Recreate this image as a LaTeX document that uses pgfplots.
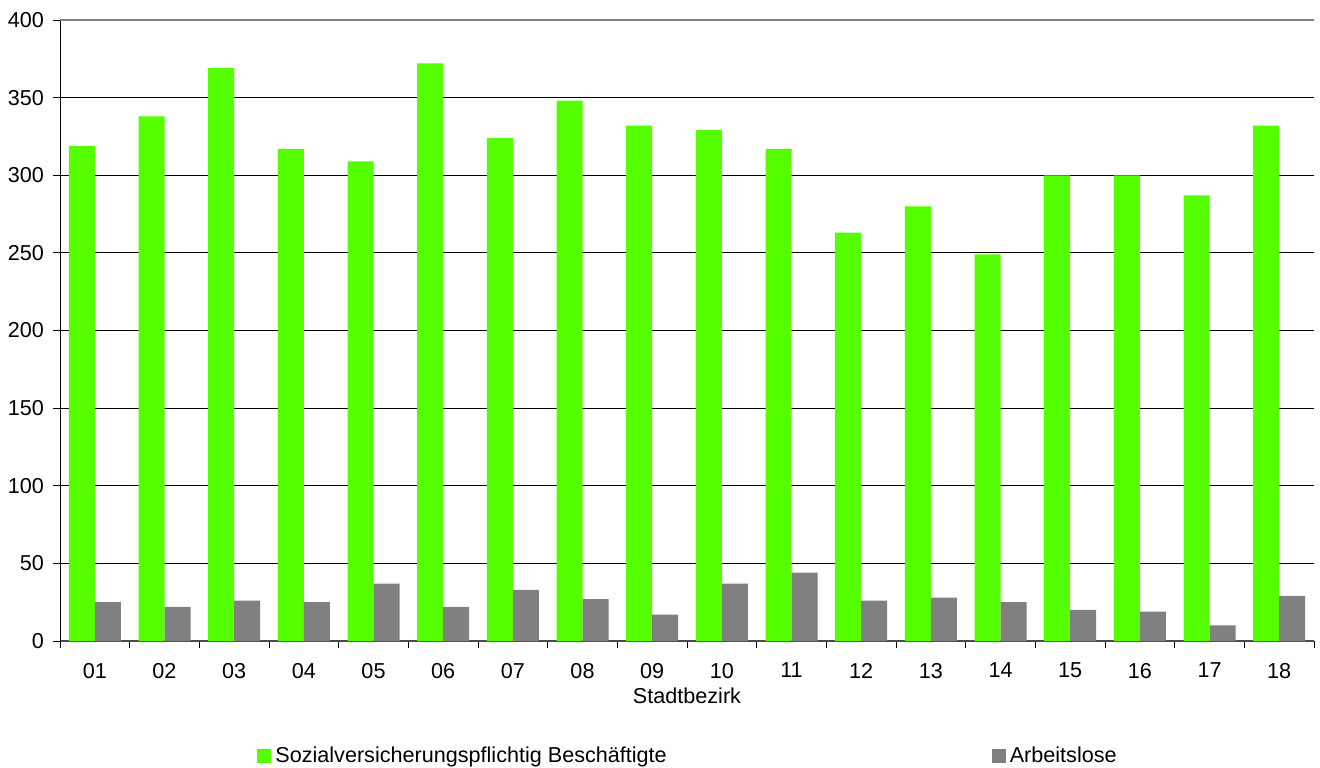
\documentclass[border=0pt]{standalone}
\usepackage{fontspec}
\setmainfont{Liberation Sans}
\usepackage{pgfplots}
\usepackage{pgfplotstable}
\pgfplotsset{compat=1.18}
\definecolor{bargreen}{RGB}{85,255,0}
\definecolor{bargray}{RGB}{128,128,128}
\pgfplotstableread{
x y
1 319
2 338
3 369
4 317
5 309
6 372
7 324
8 348
9 332
10 329
11 317
12 263
13 280
14 249
15 300
16 300
17 287
18 332
}\besch
\pgfplotstableread{
x y
1 25
2 22
3 26
4 25
5 37
6 22
7 33
8 27
9 17
10 37
11 44
12 26
13 28
14 25
15 20
16 19
17 10
18 29
}\arbeit
\begin{document}
\begin{tikzpicture}[x=1pt,y=1pt]
\useasboundingbox (0,0) rectangle (660,383.5);
\begin{axis}[
  at={(30pt,63pt)}, anchor=south west,
  scale only axis, width=627pt, height=310.5pt,
  ybar=0pt, bar width=13pt,
  xmin=0.5, xmax=18.5, ymin=0, ymax=400,
  axis lines*=left,
  x axis line style={draw=black!70, line width=0.8pt},
  y axis line style={draw=black, line width=0.5pt},
  xtick={0.5,1.5,...,18.5},
  x tick label as interval,
  xticklabels={01,02,03,04,05,06,07,08,09,10,11,12,13,14,15,16,17,18},
  xticklabel style={yshift=-4pt},
  yticklabel style={xshift=-1pt},
  ytick={0,50,...,350},
  extra y ticks={400},
  extra y tick style={grid style={draw=bargray, line width=1pt}},
  ymajorgrids,
  grid style={draw=black, line width=0.5pt},
  tick align=outside, major tick length=3.5pt,
  tick style={draw=black, line width=0.5pt},
  /pgf/number format/assume math mode=true,
  ticklabel style={font=\fontsize{10.8pt}{12pt}\selectfont},
  xlabel={Stadtbezirk},
  xlabel style={font=\fontsize{10.8pt}{12pt}\selectfont, at={(axis description cs:0.5,0)}, anchor=center, yshift=-27.5pt},
  legend columns=2,
  legend cell align=left,
  legend style={draw=none, fill=none, at={(0.1571,-0.1852)}, anchor=west, inner sep=0pt,
    font=\fontsize{10.8pt}{12pt}\selectfont,
    /tikz/every even column/.append style={column sep=160.5pt}},
  legend image code/.code={\fill[#1] (0pt,-3.5pt) rectangle (7pt,3.5pt);},
]
\addplot[fill=bargreen, draw=none] table[x=x,y=y] {\besch};
\addplot[fill=bargray, draw=none] table[x=x,y=y] {\arbeit};
\legend{Sozialversicherungspflichtig Beschäftigte, Arbeitslose}
\end{axis}
\end{tikzpicture}
\end{document}
